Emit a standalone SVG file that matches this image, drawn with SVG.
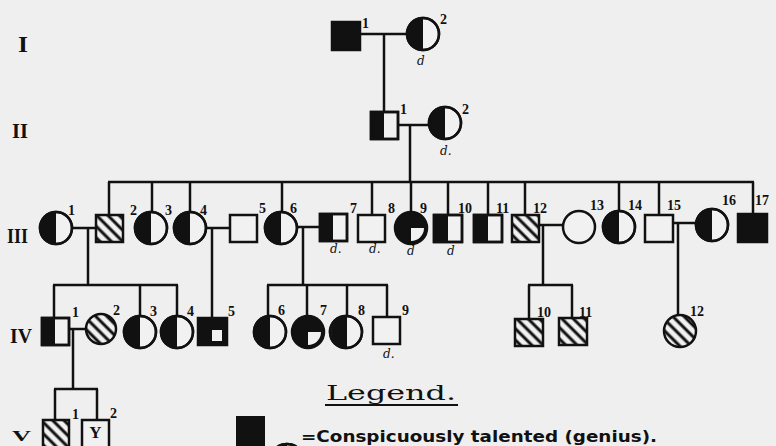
<svg xmlns="http://www.w3.org/2000/svg" width="776" height="446" viewBox="0 0 776 446">
<style>
.ln{stroke:#111;stroke-width:2.5;fill:none}
.nd{stroke:#111;stroke-width:2.5;fill:#f1f1f1}
.bk{fill:#111;stroke:none}
.wt{fill:#f1f1f1;stroke:none}
.ht{stroke:#111;stroke-width:2.5;fill:url(#hatch)}
.num{font-family:"Liberation Serif",serif;font-weight:bold;font-size:14px;fill:#111}
.rom{font-family:"Liberation Serif",serif;font-weight:bold;font-size:21px;fill:#111}
.d{font-family:"DejaVu Serif",serif;font-size:12px;font-style:italic;fill:#111}
.leg{font-family:"DejaVu Sans",sans-serif;font-weight:bold;font-size:15px;fill:#111}
.legh{font-family:"DejaVu Serif",serif;font-size:20px;fill:#111}
</style>
<defs>
<pattern id="hatch" patternUnits="userSpaceOnUse" width="8" height="8" patternTransform="rotate(-45)">
<rect width="8" height="8" fill="#f1f1f1"/>
<line x1="4" y1="0" x2="4" y2="8" stroke="#111" stroke-width="3"/>
</pattern>
</defs>
<rect width="776" height="446" fill="#efefef"/>

<g id="generation-labels">
<text class="rom" x="18" y="52" style="font-size:24px" textLength="10" lengthAdjust="spacingAndGlyphs">I</text>
<text class="rom" x="12" y="138" textLength="16" lengthAdjust="spacingAndGlyphs">II</text>
<text class="rom" x="7" y="243" textLength="21" lengthAdjust="spacingAndGlyphs">III</text>
<text class="rom" x="10" y="343" textLength="22" lengthAdjust="spacingAndGlyphs">IV</text>
<text class="rom" x="12" y="441" style="font-size:15px" textLength="19" lengthAdjust="spacingAndGlyphs">V</text>
</g>

<g id="connectors">
<line class="ln" x1="360" y1="34" x2="407" y2="34"/>
<line class="ln" x1="384" y1="34" x2="384" y2="112"/>
<line class="ln" x1="398" y1="125" x2="429" y2="125"/>
<line class="ln" x1="410" y1="125" x2="410" y2="182"/>
<line class="ln" x1="108" y1="182" x2="754" y2="182"/>
<line class="ln" x1="109" y1="182" x2="109" y2="215"/>
<line class="ln" x1="152" y1="182" x2="152" y2="212"/>
<line class="ln" x1="190" y1="182" x2="190" y2="212"/>
<line class="ln" x1="282" y1="182" x2="282" y2="212"/>
<line class="ln" x1="372" y1="182" x2="372" y2="215"/>
<line class="ln" x1="411" y1="182" x2="411" y2="212"/>
<line class="ln" x1="448" y1="182" x2="448" y2="215"/>
<line class="ln" x1="488" y1="182" x2="488" y2="215"/>
<line class="ln" x1="525" y1="182" x2="525" y2="215"/>
<line class="ln" x1="619" y1="182" x2="619" y2="211"/>
<line class="ln" x1="659" y1="182" x2="659" y2="215"/>
<line class="ln" x1="753" y1="182" x2="753" y2="214"/>
<line class="ln" x1="72" y1="228" x2="96" y2="228"/>
<line class="ln" x1="88" y1="228" x2="88" y2="285"/>
<line class="ln" x1="206" y1="228" x2="230" y2="228"/>
<line class="ln" x1="212" y1="228" x2="212" y2="318"/>
<line class="ln" x1="297" y1="227" x2="320" y2="227"/>
<line class="ln" x1="303" y1="227" x2="303" y2="285"/>
<line class="ln" x1="539" y1="225" x2="563" y2="225"/>
<line class="ln" x1="543" y1="225" x2="543" y2="285"/>
<line class="ln" x1="673" y1="223" x2="697" y2="223"/>
<line class="ln" x1="678" y1="223" x2="678" y2="315"/>
<line class="ln" x1="53" y1="285" x2="178" y2="285"/>
<line class="ln" x1="54" y1="285" x2="54" y2="318"/>
<line class="ln" x1="140" y1="285" x2="140" y2="316"/>
<line class="ln" x1="177" y1="285" x2="177" y2="316"/>
<line class="ln" x1="267" y1="285" x2="388" y2="285"/>
<line class="ln" x1="268" y1="285" x2="268" y2="316"/>
<line class="ln" x1="307" y1="285" x2="307" y2="316"/>
<line class="ln" x1="347" y1="285" x2="347" y2="316"/>
<line class="ln" x1="387" y1="285" x2="387" y2="317"/>
<line class="ln" x1="528" y1="285" x2="573" y2="285"/>
<line class="ln" x1="529" y1="285" x2="529" y2="319"/>
<line class="ln" x1="572" y1="285" x2="572" y2="318"/>
<line class="ln" x1="69" y1="329" x2="86" y2="329"/>
<line class="ln" x1="73" y1="329" x2="73" y2="389"/>
<line class="ln" x1="54" y1="389" x2="98" y2="389"/>
<line class="ln" x1="55" y1="389" x2="55" y2="420"/>
<line class="ln" x1="97" y1="389" x2="97" y2="420"/>
</g>

<g id="I-1">
<rect class="nd" x="332" y="22" width="28" height="28" style="fill:#111"/>
<text class="num" x="362" y="28">1</text>
</g>
<g id="I-2">
<circle class="nd" cx="423" cy="34" r="16"/>
<path class="bk" d="M423,18 A16,16 0 0 0 423,50 Z"/>
<circle class="ln" cx="423" cy="34" r="16"/>
<text class="num" x="440" y="24">2</text>
<text class="d" x="417" y="65">d</text>
</g>

<g id="II-1">
<rect class="nd" x="371" y="112" width="27" height="27"/>
<rect class="bk" x="371" y="112" width="13" height="27"/>
<rect class="ln" x="371" y="112" width="27" height="27"/>
<text class="num" x="400" y="114">1</text>
</g>
<g id="II-2">
<circle class="nd" cx="445" cy="123" r="16"/>
<path class="bk" d="M445,107 A16,16 0 0 0 445,139 Z"/>
<circle class="ln" cx="445" cy="123" r="16"/>
<text class="num" x="462" y="114">2</text>
<text class="d" x="440" y="155">d.</text>
</g>

<g id="III-1">
<circle class="nd" cx="56" cy="228" r="16"/>
<path class="bk" d="M56,212 A16,16 0 0 0 56,244 Z"/>
<circle class="ln" cx="56" cy="228" r="16"/>
<text class="num" x="68" y="215">1</text>
</g>
<g id="III-2">
<rect class="ht" x="96" y="215" width="27" height="27"/>
<text class="num" x="130" y="215">2</text>
</g>
<g id="III-3">
<circle class="nd" cx="151" cy="228" r="16"/>
<path class="bk" d="M151,212 A16,16 0 0 0 151,244 Z"/>
<circle class="ln" cx="151" cy="228" r="16"/>
<text class="num" x="165" y="215">3</text>
</g>
<g id="III-4">
<circle class="nd" cx="190" cy="228" r="16"/>
<path class="bk" d="M190,212 A16,16 0 0 0 190,244 Z"/>
<circle class="ln" cx="190" cy="228" r="16"/>
<text class="num" x="200" y="215">4</text>
</g>
<g id="III-5">
<rect class="nd" x="230" y="215" width="27" height="27"/>
<text class="num" x="259" y="213">5</text>
</g>
<g id="III-6">
<circle class="nd" cx="281" cy="228" r="16"/>
<path class="bk" d="M281,212 A16,16 0 0 0 281,244 Z"/>
<circle class="ln" cx="281" cy="228" r="16"/>
<text class="num" x="290" y="213">6</text>
</g>
<g id="III-7">
<rect class="nd" x="320" y="214" width="27" height="27"/>
<rect class="bk" x="320" y="214" width="13" height="27"/>
<rect class="ln" x="320" y="214" width="27" height="27"/>
<text class="num" x="350" y="213">7</text>
<text class="d" x="330" y="253">d.</text>
</g>
<g id="III-8">
<rect class="nd" x="358" y="215" width="27" height="27"/>
<text class="num" x="388" y="213">8</text>
<text class="d" x="369" y="253">d.</text>
</g>
<g id="III-9">
<circle class="nd" cx="411" cy="228" r="16" style="fill:#111"/>
<path class="wt" d="M411,228 L424,228 A13,13 0 0 1 411,241 Z"/>
<text class="num" x="420" y="213">9</text>
<text class="d" x="407" y="255">d</text>
</g>
<g id="III-10">
<rect class="nd" x="434" y="215" width="28" height="27"/>
<rect class="bk" x="434" y="215" width="14" height="27"/>
<rect class="ln" x="434" y="215" width="28" height="27"/>
<text class="num" x="458" y="213">10</text>
<text class="d" x="447" y="255">d</text>
</g>
<g id="III-11">
<rect class="nd" x="474" y="215" width="28" height="27"/>
<rect class="bk" x="474" y="215" width="14" height="27"/>
<rect class="ln" x="474" y="215" width="28" height="27"/>
<text class="num" x="496" y="213">11</text>
</g>
<g id="III-12">
<rect class="ht" x="512" y="215" width="27" height="27"/>
<text class="num" x="533" y="213">12</text>
</g>
<g id="III-13">
<circle class="nd" cx="579" cy="227" r="16"/>
<text class="num" x="590" y="210">13</text>
</g>
<g id="III-14">
<circle class="nd" cx="619" cy="227" r="16"/>
<path class="bk" d="M619,211 A16,16 0 0 0 619,243 Z"/>
<circle class="ln" cx="619" cy="227" r="16"/>
<text class="num" x="628" y="210">14</text>
</g>
<g id="III-15">
<rect class="nd" x="645" y="215" width="28" height="27"/>
<text class="num" x="667" y="210">15</text>
</g>
<g id="III-16">
<circle class="nd" cx="712" cy="225" r="16"/>
<path class="bk" d="M712,209 A16,16 0 0 0 712,241 Z"/>
<circle class="ln" cx="712" cy="225" r="16"/>
<text class="num" x="722" y="205">16</text>
</g>
<g id="III-17">
<rect class="nd" x="738" y="214" width="29" height="28" style="fill:#111"/>
<text class="num" x="755" y="205">17</text>
</g>

<g id="IV-1">
<rect class="nd" x="42" y="318" width="27" height="27"/>
<rect class="bk" x="42" y="318" width="13" height="27"/>
<rect class="ln" x="42" y="318" width="27" height="27"/>
<text class="num" x="72" y="317">1</text>
</g>
<g id="IV-2">
<circle class="ht" cx="101" cy="329" r="15"/>
<text class="num" x="113" y="315">2</text>
</g>
<g id="IV-3">
<circle class="nd" cx="140" cy="332" r="16"/>
<path class="bk" d="M140,316 A16,16 0 0 0 140,348 Z"/>
<circle class="ln" cx="140" cy="332" r="16"/>
<text class="num" x="150" y="316">3</text>
</g>
<g id="IV-4">
<circle class="nd" cx="177" cy="332" r="16"/>
<path class="bk" d="M177,316 A16,16 0 0 0 177,348 Z"/>
<circle class="ln" cx="177" cy="332" r="16"/>
<text class="num" x="187" y="316">4</text>
</g>
<g id="IV-5">
<rect class="nd" x="198" y="318" width="29" height="27" style="fill:#111"/>
<rect class="wt" x="212" y="330" width="10" height="11"/>
<text class="num" x="228" y="316">5</text>
</g>
<g id="IV-6">
<circle class="nd" cx="270" cy="332" r="16"/>
<path class="bk" d="M270,316 A16,16 0 0 0 270,348 Z"/>
<circle class="ln" cx="270" cy="332" r="16"/>
<text class="num" x="278" y="315">6</text>
</g>
<g id="IV-7">
<circle class="nd" cx="308" cy="332" r="16" style="fill:#111"/>
<path class="wt" d="M308,332 L321,332 A13,13 0 0 1 308,345 Z"/>
<text class="num" x="320" y="315">7</text>
</g>
<g id="IV-8">
<circle class="nd" cx="346" cy="332" r="16"/>
<path class="bk" d="M347,316 A16,16 0 0 0 347,348 Z"/>
<circle class="ln" cx="346" cy="332" r="16"/>
<text class="num" x="358" y="315">8</text>
</g>
<g id="IV-9">
<rect class="nd" x="373" y="317" width="27" height="27"/>
<text class="num" x="402" y="315">9</text>
<text class="d" x="383" y="358">d.</text>
</g>
<g id="IV-10">
<rect class="ht" x="515" y="319" width="28" height="27"/>
<text class="num" x="537" y="317">10</text>
</g>
<g id="IV-11">
<rect class="ht" x="559" y="318" width="28" height="27"/>
<text class="num" x="579" y="317">11</text>
</g>
<g id="IV-12">
<circle class="ht" cx="680" cy="331" r="16"/>
<text class="num" x="690" y="316">12</text>
</g>

<g id="V-1">
<rect class="ht" x="43" y="420" width="26" height="30"/>
<text class="num" x="72" y="419">1</text>
</g>
<g id="V-2">
<rect class="nd" x="82" y="420" width="27" height="30"/>
<text class="num" x="95.5" y="438" text-anchor="middle" style="font-size:17px">Y</text>
<text class="num" x="110" y="418">2</text>
</g>

<g id="legend">
<text class="legh" x="326" y="400" textLength="130" lengthAdjust="spacingAndGlyphs">Legend.</text>
<line class="ln" x1="325" y1="405" x2="458" y2="405" style="stroke-width:2"/>
<rect class="bk" x="236" y="416" width="29" height="32"/>
<circle class="nd" cx="287" cy="461" r="17"/>
<path class="bk" d="M287,444 A17,17 0 0 0 287,478 Z"/>
<circle class="ln" cx="287" cy="461" r="17"/>
<text class="leg" x="301" y="442" textLength="356" lengthAdjust="spacingAndGlyphs">=Conspicuously talented (genius).</text>
</g>
</svg>
